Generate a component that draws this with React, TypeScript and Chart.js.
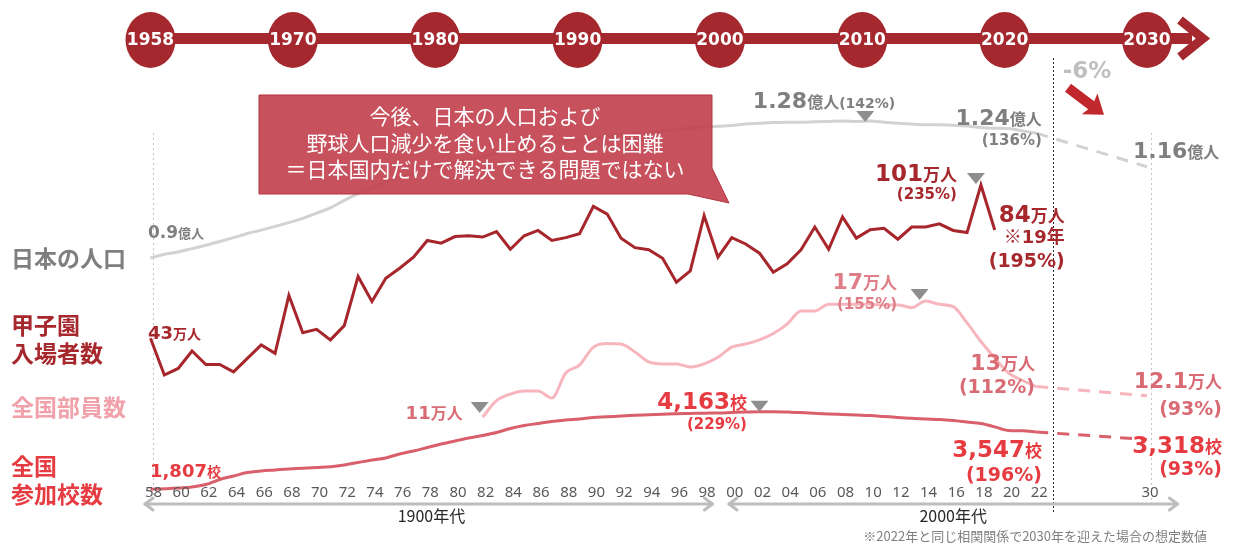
import React, { useEffect, useRef } from "react";
import { Chart, registerables } from "chart.js";

Chart.register(...registerables);

// ---------- data ----------
const YEARS = [
  1958, 1959, 1960, 1961, 1962, 1963, 1964, 1965, 1966, 1967,
  1968, 1969, 1970, 1971, 1972, 1973, 1974, 1975, 1976, 1977,
  1978, 1979, 1980, 1981, 1982, 1983, 1984, 1985, 1986, 1987,
  1988, 1989, 1990, 1991, 1992, 1993, 1994, 1995, 1996, 1997,
  1998, 1999, 2000, 2001, 2002, 2003, 2004, 2005, 2006, 2007,
  2008, 2009, 2010, 2011, 2012, 2013, 2014, 2015, 2016, 2017,
  2018, 2019, 2020, 2021, 2022,
];

// 日本の人口 (億人)
const POPULATION = [
  0.918, 0.928, 0.934, 0.943, 0.952, 0.962, 0.972, 0.983, 0.992, 1.002,
  1.012, 1.023, 1.037, 1.051, 1.071, 1.089, 1.105, 1.119, 1.131, 1.142,
  1.152, 1.162, 1.171, 1.179, 1.187, 1.195, 1.202, 1.21, 1.217, 1.222,
  1.228, 1.232, 1.236, 1.24, 1.245, 1.248, 1.25, 1.256, 1.259, 1.262,
  1.265, 1.267, 1.269, 1.273, 1.275, 1.277, 1.278, 1.278, 1.279, 1.28,
  1.281, 1.28, 1.281, 1.278, 1.275, 1.273, 1.271, 1.271, 1.27, 1.268,
  1.264, 1.262, 1.261, 1.255, 1.249,
];

// 甲子園入場者数 (万人)
const KOSHIEN = [
  43, 29.1, 31.6, 38.2, 33.1, 33.1, 30.3, 35.4, 40.5, 37.3,
  59.2, 45.1, 46.4, 42.4, 47.8, 66.4, 56.9, 65.7, 69.5, 73.7,
  80.0, 79.0, 81.5, 81.8, 81.3, 83.4, 76.7, 81.8, 83.8, 80.0,
  81.1, 82.6, 92.9, 90.0, 80.9, 77.3, 76.5, 73.3, 64.2, 68.5,
  89.4, 73.7, 81.1, 78.7, 75.2, 68.0, 71.2, 76.5, 85.1, 76.7,
  88.9, 80.9, 84.1, 84.6, 80.5, 85.1, 85.1, 86.3, 83.8, 83.0,
  101, 84, null, null, null,
];

// 全国部員数 (万人)
const MEMBERS = [
  null, null, null, null, null, null, null, null, null, null,
  null, null, null, null, null, null, null, null, null, null,
  null, null, null, null, 11.0, 11.85, 12.19, 12.35, 12.35, 11.99,
  13.28, 13.69, 14.62, 14.81, 14.78, 14.37, 13.85, 13.75, 13.75, 13.59,
  13.75, 14.09, 14.62, 14.78, 14.99, 15.32, 15.81, 16.49, 16.49, 16.83,
  16.83, 16.83, 16.83, 16.8, 16.8, 16.66, 17.0, 16.83, 16.71, 15.87,
  14.91, 14.06, 13.28, 12.89, 12.58,
];

// 全国参加校数 (校)
const SCHOOLS = [
  1807, 1821, 1846, 1876, 1952, 2104, 2210, 2313, 2362, 2392,
  2423, 2444, 2468, 2492, 2544, 2620, 2696, 2757, 2878, 2969,
  3075, 3182, 3273, 3364, 3440, 3531, 3652, 3743, 3804, 3865,
  3910, 3940, 3986, 4007, 4032, 4053, 4068, 4083, 4098, 4107,
  4117, 4123, 4138, 4153, 4163, 4160, 4150, 4138, 4114, 4092,
  4077, 4062, 4047, 4017, 3986, 3962, 3940, 3925, 3895, 3849,
  3804, 3700, 3590, 3580, 3547,
];

// 2030年 想定
const FORECAST_YEARS = [2022, 2030];
const POPULATION_FORECAST = [1.249, 1.16];
const MEMBERS_FORECAST = [12.58, 12.1];
const SCHOOLS_FORECAST = [3547, 3318];

const TICK_YEARS = [
  1958, 1960, 1962, 1964, 1966, 1968, 1970, 1972, 1974, 1976, 1978, 1980,
  1982, 1984, 1986, 1988, 1990, 1992, 1994, 1996, 1998, 2000, 2002, 2004,
  2006, 2008, 2010, 2012, 2014, 2016, 2018, 2020, 2022, 2030,
];
const TIMELINE_YEARS = ["1958", "1970", "1980", "1990", "2000", "2010", "2020", "2030"];
const SPLIT_YEAR = 2023.2;

const SERIES_LABELS = [
  { lines: ["日本の人口"], color: "#7f7f7f", cy: [258] },
  { lines: ["甲子園", "入場者数"], color: "#a6282d", cy: [325, 353] },
  { lines: ["全国部員数"], color: "#f0a1a9", cy: [407] },
  { lines: ["全国", "参加校数"], color: "#e63b41", cy: [466, 494] },
];

const CALLOUT_LINES = [
  "今後、日本の人口および",
  "野球人口減少を食い止めることは困難",
  "＝日本国内だけで解決できる問題ではない",
];

// ---------- styling ----------
const LATIN = "'DejaVu Sans', sans-serif";
const CJK = "'Noto Sans CJK JP', sans-serif";
const C_POP = "#7f7f7f";
const C_KOS = "#a6282d";
const C_MEM = "#d96b74";
const C_SCH = "#e63b41";
const C_TRI = "#8e8e8e";

type Seg = { t: string; size: number; cjk?: boolean };

function drawRich(
  ctx: CanvasRenderingContext2D,
  segs: Seg[],
  x: number,
  cy: number,
  align: "left" | "right" | "center",
  color: string,
  refSize: number
) {
  const fonts = segs.map((s) => `bold ${s.size}px ${s.cjk ? CJK : LATIN}`);
  let w = 0;
  segs.forEach((s, i) => {
    ctx.font = fonts[i];
    w += ctx.measureText(s.t).width;
  });
  let sx = align === "left" ? x : align === "right" ? x - w : x - w / 2;
  const base = cy + 0.365 * refSize;
  ctx.fillStyle = color;
  ctx.textAlign = "left";
  ctx.textBaseline = "alphabetic";
  segs.forEach((s, i) => {
    ctx.font = fonts[i];
    ctx.fillText(s.t, sx, base);
    sx += ctx.measureText(s.t).width;
  });
}

function tri(ctx: CanvasRenderingContext2D, x: number, tipY: number) {
  ctx.fillStyle = C_TRI;
  ctx.beginPath();
  ctx.moveTo(x - 9, tipY - 11);
  ctx.lineTo(x + 9, tipY - 11);
  ctx.lineTo(x, tipY);
  ctx.closePath();
  ctx.fill();
}

const decorPlugin = {
  id: "decor",
  beforeDatasetsDraw(chart: any) {
    const { ctx, scales } = chart;
    const X = scales.x;
    ctx.save();
    ctx.lineWidth = 1;
    ctx.setLineDash([2, 3]);
    ctx.strokeStyle = "#c4c4c4";
    [X.getPixelForValue(1958) + 2.5, X.getPixelForValue(2030) + 3.5].forEach((lx: number) => {
      ctx.beginPath();
      ctx.moveTo(Math.round(lx) + 0.5, 133);
      ctx.lineTo(Math.round(lx) + 0.5, 507);
      ctx.stroke();
    });
    ctx.strokeStyle = "#2b2b2b";
    ctx.setLineDash([2, 2]);
    const sx = Math.round(X.getPixelForValue(SPLIT_YEAR)) + 0.5;
    ctx.beginPath();
    ctx.moveTo(sx, 58);
    ctx.lineTo(sx, 512);
    ctx.stroke();
    ctx.restore();
  },
  afterDatasetsDraw(chart: any) {
    const { ctx, scales, chartArea } = chart;
    const X = scales.x;
    const px = (v: number) => X.getPixelForValue(v);
    const py = (id: string, v: number) => scales[id].getPixelForValue(v);
    ctx.save();

    // ----- timeline -----
    const tl = chartArea.left;
    const tr = chartArea.right;
    const step = (tr - tl) / (TIMELINE_YEARS.length - 1);
    const tcy = 40;
    ctx.fillStyle = "#a4282d";
    ctx.fillRect(tl, 33, tr - tl + 45, 11);
    ctx.strokeStyle = "#a4282d";
    ctx.lineWidth = 9;
    ctx.lineJoin = "miter";
    ctx.beginPath();
    ctx.moveTo(tr + 33, 20);
    ctx.lineTo(tr + 56, 38.5);
    ctx.lineTo(tr + 33, 57);
    ctx.stroke();
    TIMELINE_YEARS.forEach((label, i) => {
      const cx = tl + step * i;
      ctx.fillStyle = "#a4282d";
      ctx.beginPath();
      ctx.ellipse(cx, tcy, 25, 28, 0, 0, Math.PI * 2);
      ctx.fill();
      ctx.fillStyle = "#ffffff";
      ctx.font = `bold 17px ${LATIN}`;
      ctx.textAlign = "center";
      ctx.textBaseline = "middle";
      ctx.fillText(label, cx, tcy + 1);
    });

    // ----- callout box -----
    ctx.fillStyle = "rgba(193,62,74,0.9)";
    ctx.strokeStyle = "#b4343f";
    ctx.lineWidth = 1;
    ctx.beginPath();
    ctx.moveTo(259, 95);
    ctx.lineTo(712, 95);
    ctx.lineTo(712, 168);
    ctx.lineTo(729, 203);
    ctx.lineTo(688, 194);
    ctx.lineTo(259, 194);
    ctx.closePath();
    ctx.fill();
    ctx.stroke();
    ctx.fillStyle = "#ffffff";
    ctx.font = `21px ${CJK}`;
    ctx.textAlign = "center";
    ctx.textBaseline = "middle";
    const boxY = [116, 143, 169];
    CALLOUT_LINES.forEach((l, i) => ctx.fillText(l, 485, boxY[i]));

    // ----- series labels at left -----
    ctx.textAlign = "left";
    ctx.textBaseline = "middle";
    ctx.font = `bold 23px ${CJK}`;
    SERIES_LABELS.forEach((s) => {
      ctx.fillStyle = s.color;
      s.lines.forEach((l, i) => ctx.fillText(l, 11, s.cy[i]));
    });

    // ----- x tick labels -----
    ctx.font = `15px 'Noto Sans', sans-serif`;
    ctx.fillStyle = "#595959";
    ctx.textAlign = "center";
    ctx.textBaseline = "middle";
    TICK_YEARS.forEach((y) => {
      ctx.fillText(String(y % 100).padStart(2, "0"), px(y) + 3, 493);
    });

    // ----- axis arrows -----
    ctx.strokeStyle = "#bdbdbd";
    ctx.lineWidth = 3;
    ctx.lineJoin = "round";
    ctx.lineCap = "round";
    const arrow = (x1: number, x2: number, y: number) => {
      ctx.beginPath();
      ctx.moveTo(x1, y);
      ctx.lineTo(x2, y);
      ctx.stroke();
      ctx.beginPath();
      ctx.moveTo(x1 + 8, y - 6);
      ctx.lineTo(x1, y);
      ctx.lineTo(x1 + 8, y + 6);
      ctx.stroke();
      ctx.beginPath();
      ctx.moveTo(x2 - 8, y - 6);
      ctx.lineTo(x2, y);
      ctx.lineTo(x2 - 8, y + 6);
      ctx.stroke();
    };
    arrow(px(1957.6), px(1998.6), 504);
    arrow(px(1999.8), px(2032.2), 504);
    ctx.font = `16px ${CJK}`;
    ctx.fillStyle = "#262626";
    ctx.textAlign = "center";
    ctx.fillText("1900年代", px(1978.3), 516);
    ctx.fillText("2000年代", px(2016), 516);
    ctx.font = `13px ${CJK}`;
    ctx.fillStyle = "#7f7f7f";
    ctx.textAlign = "right";
    ctx.fillText("※2022年と同じ相関関係で2030年を迎えた場合の想定数値", 1207, 536);

    // ----- triangles -----
    tri(ctx, px(2010) - 5, py("yPop", 1.281) + 1);
    tri(ctx, px(2018) - 5, py("yKos", 101) - 1);
    tri(ctx, px(2014) - 6, py("yMem", 17.0) - 1);
    tri(ctx, px(2002), py("ySch", 4163));
    tri(ctx, px(1982) - 3, py("yMem", 11.0) - 4);

    // ----- population annotations -----
    const pop58 = { x: px(1958), y: py("yPop", POPULATION[0]) };
    drawRich(ctx, [{ t: "0.9", size: 17 }, { t: "億人", size: 13, cjk: true }], pop58.x - 2.5, pop58.y - 26, "left", C_POP, 17);
    const pop10 = { x: px(2010), y: py("yPop", 1.281) };
    drawRich(
      ctx,
      [{ t: "1.28", size: 22 }, { t: "億人", size: 16, cjk: true }, { t: "(142%)", size: 14 }],
      pop10.x + 25,
      pop10.y - 21,
      "right",
      C_POP,
      22
    );
    const pop22 = { x: px(2022), y: py("yPop", POPULATION_FORECAST[0]) };
    drawRich(ctx, [{ t: "1.24", size: 22 }, { t: "億人", size: 16, cjk: true }], pop22.x + 5.5, pop22.y - 16.5, "right", C_POP, 22);
    drawRich(ctx, [{ t: "(136%)", size: 15 }], pop22.x + 5.5, pop22.y + 6, "right", C_POP, 15);
    const pop30 = { x: px(2030), y: py("yPop", POPULATION_FORECAST[1]) };
    drawRich(ctx, [{ t: "1.16", size: 22 }, { t: "億人", size: 16, cjk: true }], pop30.x - 14, pop30.y - 16.7, "left", C_POP, 22);
    drawRich(ctx, [{ t: "-6%", size: 23 }], pop30.x - 60, pop30.y - 97, "center", "#bfbfbf", 23);

    // red down arrow
    {
      const sx0 = pop30.x - 79;
      const sy0 = pop30.y - 79;
      const ex = pop30.x - 43;
      const ey = pop30.y - 52;
      const ang = Math.atan2(ey - sy0, ex - sx0);
      const len = Math.hypot(ex - sx0, ey - sy0);
      ctx.save();
      ctx.translate(sx0, sy0);
      ctx.rotate(ang);
      ctx.fillStyle = "#c0282e";
      ctx.beginPath();
      ctx.moveTo(0, -5);
      ctx.lineTo(len - 16, -5);
      ctx.lineTo(len - 18, -13);
      ctx.lineTo(len, 0);
      ctx.lineTo(len - 18, 13);
      ctx.lineTo(len - 16, 5);
      ctx.lineTo(0, 5);
      ctx.closePath();
      ctx.fill();
      ctx.restore();
    }

    // ----- Koshien annotations -----
    const k58 = { x: px(1958), y: py("yKos", KOSHIEN[0] as number) };
    drawRich(ctx, [{ t: "43", size: 18 }, { t: "万人", size: 14, cjk: true }], k58.x - 2.5, k58.y - 6, "left", C_KOS, 18);
    const k18 = { x: px(2018), y: py("yKos", 101) };
    drawRich(ctx, [{ t: "101", size: 23 }, { t: "万人", size: 17, cjk: true }], k18.x - 24, k18.y - 12, "right", C_KOS, 23);
    drawRich(ctx, [{ t: "(235%)", size: 15 }], k18.x - 24, k18.y + 9, "right", C_KOS, 15);
    const k19 = { x: px(2019), y: py("yKos", 84) };
    drawRich(ctx, [{ t: "84", size: 23 }, { t: "万人", size: 17, cjk: true }], k19.x + 70, k19.y - 16.6, "right", C_KOS, 23);
    drawRich(
      ctx,
      [{ t: "※", size: 18, cjk: true }, { t: "19", size: 18 }, { t: "年", size: 18, cjk: true }],
      k19.x + 70,
      k19.y + 6.8,
      "right",
      C_KOS,
      18
    );
    drawRich(ctx, [{ t: "(195%)", size: 19 }], k19.x + 70, k19.y + 30, "right", C_KOS, 19);

    // ----- members annotations -----
    const m82 = { x: px(1982), y: py("yMem", 11.0) };
    drawRich(ctx, [{ t: "11", size: 18 }, { t: "万人", size: 16, cjk: true }], m82.x - 20, m82.y - 5, "right", C_MEM, 18);
    const m14 = { x: px(2014), y: py("yMem", 17.0) };
    drawRich(ctx, [{ t: "17", size: 22 }, { t: "万人", size: 17, cjk: true }], m14.x - 28.5, m14.y - 20, "right", "#df7e87", 22);
    drawRich(ctx, [{ t: "(155%)", size: 15 }], m14.x - 28.5, m14.y + 2.2, "right", "#df7e87", 15);
    const m22 = { x: px(2022), y: py("yMem", MEMBERS_FORECAST[0]) };
    drawRich(ctx, [{ t: "13", size: 22 }, { t: "万人", size: 17, cjk: true }], m22.x - 1.3, m22.y - 25, "right", C_MEM, 22);
    drawRich(ctx, [{ t: "(112%)", size: 19 }], m22.x - 1.3, m22.y, "right", C_MEM, 19);
    const m30 = { x: px(2030), y: py("yMem", MEMBERS_FORECAST[1]) };
    drawRich(ctx, [{ t: "12.1", size: 22 }, { t: "万人", size: 17, cjk: true }], m30.x + 75, m30.y - 15.8, "right", C_MEM, 22);
    drawRich(ctx, [{ t: "(93%)", size: 19 }], m30.x + 75, m30.y + 12.2, "right", C_MEM, 19);

    // ----- schools annotations -----
    const s58 = { x: px(1958), y: py("ySch", SCHOOLS[0]) };
    drawRich(ctx, [{ t: "1,807", size: 18 }, { t: "校", size: 14, cjk: true }], s58.x - 0.5, s58.y - 18.6, "left", C_SCH, 18);
    const s02 = { x: px(2002), y: py("ySch", 4163) };
    drawRich(ctx, [{ t: "4,163", size: 23 }, { t: "校", size: 17, cjk: true }], s02.x - 12.5, s02.y - 11, "right", C_SCH, 23);
    drawRich(ctx, [{ t: "(229%)", size: 15 }], s02.x - 12.5, s02.y + 11.6, "right", C_SCH, 15);
    const s22 = { x: px(2022), y: py("ySch", SCHOOLS_FORECAST[0]) };
    drawRich(ctx, [{ t: "3,547", size: 23 }, { t: "校", size: 17, cjk: true }], s22.x + 5.7, s22.y + 16.3, "right", C_SCH, 23);
    drawRich(ctx, [{ t: "(196%)", size: 19 }], s22.x + 5.7, s22.y + 42.3, "right", C_SCH, 19);
    const s30 = { x: px(2030), y: py("ySch", SCHOOLS_FORECAST[1]) };
    drawRich(ctx, [{ t: "3,318", size: 23 }, { t: "校", size: 17, cjk: true }], s30.x + 75, s30.y + 5.5, "right", C_SCH, 23);
    drawRich(ctx, [{ t: "(93%)", size: 19 }], s30.x + 75, s30.y + 28.5, "right", C_SCH, 19);

    ctx.restore();
  },
};

function pts(xs: number[], ys: (number | null)[]) {
  return xs.map((x, i) => ({ x, y: ys[i] }));
}

export default function App() {
  const ref = useRef<HTMLCanvasElement | null>(null);
  useEffect(() => {
    if (!ref.current) return;
    const base = { pointRadius: 0, borderWidth: 3, fill: false, clip: false as any };
    const chart = new Chart(ref.current, {
      type: "line",
      data: {
        datasets: [
          { ...base, data: pts(YEARS, SCHOOLS), yAxisID: "ySch", borderColor: "#d9606a", cubicInterpolationMode: "monotone" },
          { ...base, data: pts(FORECAST_YEARS, SCHOOLS_FORECAST), yAxisID: "ySch", borderColor: "#d9606a", borderDash: [12, 9] },
          { ...base, data: pts(YEARS, MEMBERS), yAxisID: "yMem", borderColor: "#f7b6be", cubicInterpolationMode: "monotone" },
          { ...base, data: pts(FORECAST_YEARS, MEMBERS_FORECAST), yAxisID: "yMem", borderColor: "#f7b6be", borderDash: [12, 9] },
          { ...base, data: pts(YEARS, KOSHIEN), yAxisID: "yKos", borderColor: "#a6262c", tension: 0 },
          { ...base, data: pts(YEARS, POPULATION), yAxisID: "yPop", borderColor: "#d2d2d2", cubicInterpolationMode: "monotone" },
          { ...base, data: pts(FORECAST_YEARS, POPULATION_FORECAST), yAxisID: "yPop", borderColor: "#d2d2d2", borderDash: [12, 9] },
        ] as any,
      },
      options: {
        animation: false,
        responsive: true,
        maintainAspectRatio: false,
        layout: { padding: { left: 150.5, right: 87, top: 60, bottom: 46 } },
        plugins: { legend: { display: false }, tooltip: { enabled: false } },
        scales: {
          x: { type: "linear", min: 1958, max: 2030, display: false },
          yPop: { type: "linear", display: false, min: 0.2769, max: 1.4428 },
          yKos: { type: "linear", display: false, min: -18.18, max: 148.3 },
          yMem: { type: "linear", display: false, min: 6.71, max: 29.47 },
          ySch: { type: "linear", display: false, min: 1481, max: 14839 },
        },
      },
      plugins: [decorPlugin],
    });
    return () => chart.destroy();
  }, []);
  return (
    <div style={{ position: "absolute", left: 0, top: 0, width: 1234, height: 546, background: "#ffffff" }}>
      <canvas ref={ref} />
    </div>
  );
}
